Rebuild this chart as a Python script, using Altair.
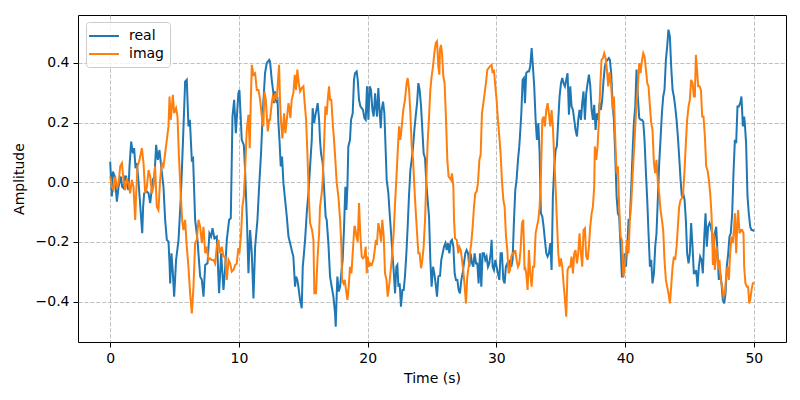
import altair as alt
import pandas as pd

# ---- data ----
real_t = [0.00,0.13,0.21,0.36,0.52,0.65,0.83,0.93,1.04,1.14,1.24,1.35,1.42,1.50,1.63,1.76,1.86,1.97,2.07,2.20,2.33,2.49,2.56,2.64,2.85,2.98,3.11,3.21,3.31,3.44,3.57,3.70,3.83,3.96,4.14,4.27,4.40,4.53,4.61,4.66,4.76,4.87,4.97,5.12,5.31,5.49,5.64,5.80,
          5.82,5.95,6.08,6.19,6.34,6.44,6.60,6.78,6.99,7.12,7.25,7.38,7.56,7.71,7.84,7.95,8.10,8.28,8.46,8.62,8.80,8.93,9.06,9.24,9.37,9.50,9.63,9.76,9.96,10.04,10.22,10.38,10.48,10.64,10.74,10.87,11.00,11.13,11.26,11.44,11.57,11.72,11.85,12.03,12.16,12.35,
          12.42,12.55,12.68,12.73,12.81,12.94,12.99,13.07,13.15,13.25,13.35,13.46,13.59,13.72,13.85,13.98,14.10,14.23,14.36,14.44,14.54,14.62,14.75,14.88,14.96,15.01,15.14,15.27,15.40,15.53,15.66,15.73,15.84,15.92,16.05,16.12,16.23,16.30,16.38,16.51,16.64,16.74,16.82,16.95,17.08,17.21,17.34,17.47,17.52,17.60,17.65,17.75,17.86,17.93,18.06,18.17,18.27,18.35,18.43,18.50,18.63,18.71,18.84,18.94,
          19.02,19.15,19.23,19.33,19.44,19.54,19.64,19.75,19.85,19.95,20.06,20.16,20.26,20.37,20.47,20.58,20.65,20.73,20.83,20.94,21.02,21.09,21.20,21.30,21.40,21.48,21.61,21.71,21.82,21.92,22.02,22.13,22.23,22.31,22.39,22.49,22.59,22.70,22.80,22.90,23.01,23.11,23.21,23.32,23.42,23.53,23.63,23.73,23.84,23.94,24.04,24.15,24.25,24.35,24.46,24.56,24.66,24.77,24.87,24.97,25.08,25.18,25.28,25.39,25.49,25.60,
          25.62,25.72,25.83,25.93,26.04,26.14,26.24,26.35,26.45,26.55,26.66,26.76,26.86,26.97,27.07,27.17,27.28,27.38,27.48,27.59,27.69,27.80,27.90,28.00,28.11,28.21,28.31,28.42,28.52,28.62,28.73,28.83,28.93,29.04,29.14,29.24,29.35,29.45,29.56,29.63,29.71,29.81,29.92,30.02,30.12,30.23,30.33,30.43,30.54,30.64,30.74,30.85,30.95,31.06,31.16,31.26,31.37,31.47,31.57,31.68,31.78,31.83,31.94,32.04,32.14,
          32.22,32.32,32.43,32.53,32.63,32.74,32.84,32.94,33.05,33.15,33.26,33.36,33.46,33.57,33.67,33.77,33.88,33.98,34.08,34.19,34.29,34.39,34.50,34.60,34.70,34.81,34.91,35.02,35.12,35.22,35.33,35.43,35.53,35.64,35.74,35.84,35.95,36.05,36.15,36.26,36.36,36.46,36.57,36.67,36.77,36.88,36.98,37.09,37.19,37.29,37.40,37.50,37.60,37.71,37.81,37.91,38.02,38.12,38.22,38.33,38.43,38.53,38.64,38.74,
          38.82,38.92,39.03,39.13,39.23,39.34,39.44,39.54,39.65,39.75,39.86,39.96,40.06,40.17,40.27,40.37,40.48,40.58,40.68,40.79,40.89,40.99,41.10,41.20,41.30,41.41,41.51,41.62,41.72,41.82,41.93,42.03,42.13,42.24,42.34,42.44,42.55,42.65,42.75,42.86,42.96,43.06,43.17,43.27,43.37,43.48,43.58,43.69,43.79,43.89,44.00,44.10,44.20,44.31,44.41,44.51,44.62,44.72,44.82,44.93,45.03,45.13,45.24,45.34,
          45.42,45.52,45.63,45.73,45.83,45.94,46.04,46.14,46.25,46.35,46.45,46.56,46.66,46.76,46.87,46.97,47.08,47.18,47.28,47.39,47.49,47.59,47.70,47.80,47.90,48.01,48.11,48.21,48.32,48.42,48.53,48.63,48.73,48.84,48.94,49.04,49.15,49.25,49.30,49.40,49.51,49.61,49.72,49.82,49.92,50.00]
real_v = [0.069,-0.048,0.036,0.019,-0.065,-0.015,0.019,-0.015,-0.020,0.019,0.019,-0.015,-0.026,0.053,0.136,0.097,0.114,0.047,0.064,0.002,-0.076,-0.171,-0.082,-0.037,-0.031,-0.037,-0.070,-0.031,0.008,0.019,0.125,0.075,0.108,0.053,-0.015,-0.126,-0.193,-0.199,-0.272,-0.339,-0.238,-0.305,-0.383,-0.260,-0.193,-0.048,0.120,0.309,
          0.337,0.343,0.187,0.209,0.075,0.080,-0.126,-0.193,-0.316,-0.327,-0.383,-0.277,-0.272,-0.171,-0.182,-0.154,-0.188,-0.182,-0.372,-0.238,-0.361,-0.288,-0.193,-0.126,-0.121,0.220,0.276,0.164,0.298,0.309,0.142,0.125,0.041,-0.149,-0.305,-0.160,-0.238,-0.389,-0.216,-0.126,-0.015,0.097,0.231,0.365,0.399,0.410,
          0.404,0.343,0.298,0.265,0.304,0.265,0.287,0.198,0.142,0.053,0.086,-0.003,-0.059,-0.115,-0.182,-0.204,-0.227,-0.249,-0.350,-0.316,-0.327,-0.350,-0.394,-0.422,-0.283,-0.260,-0.193,-0.104,-0.037,0.053,0.142,0.248,0.198,0.220,0.248,0.265,0.209,0.142,0.097,0.064,-0.037,-0.115,-0.126,-0.204,-0.316,-0.350,-0.383,-0.439,-0.484,-0.372,-0.316,-0.366,-0.350,-0.316,-0.260,-0.149,-0.015,-0.093,-0.015,0.120,0.142,0.209,0.231,0.343,
          0.365,0.371,0.343,0.276,0.254,0.248,0.242,0.215,0.209,0.321,0.209,0.321,0.309,0.242,0.220,0.298,0.254,0.220,0.315,0.231,0.181,0.242,0.270,0.231,0.108,0.008,-0.037,-0.104,-0.171,-0.238,-0.294,-0.372,-0.283,-0.277,-0.350,-0.339,-0.417,-0.361,-0.361,-0.316,-0.238,-0.149,-0.048,0.041,0.075,0.120,0.175,0.220,0.265,0.332,0.309,0.254,0.175,0.097,0.080,-0.003,-0.059,-0.115,-0.260,-0.350,-0.283,-0.305,-0.339,-0.383,-0.316,-0.311,
          -0.316,-0.260,-0.238,-0.216,-0.204,-0.227,-0.204,-0.238,-0.199,-0.193,-0.216,-0.305,-0.327,-0.327,-0.361,-0.372,-0.327,-0.305,-0.272,-0.238,-0.227,-0.238,-0.283,-0.238,-0.272,-0.283,-0.238,-0.272,-0.272,-0.339,-0.238,-0.350,-0.238,-0.238,-0.260,-0.249,-0.283,-0.272,-0.238,-0.193,-0.283,-0.294,-0.260,-0.283,-0.305,-0.327,-0.238,-0.238,-0.327,-0.339,-0.283,-0.272,-0.283,-0.260,-0.283,-0.260,-0.126,-0.026,0.008,0.075,0.120,0.153,0.231,0.343,0.349,
          0.265,0.365,0.371,0.371,0.388,0.449,0.388,0.321,0.209,0.142,0.198,0.097,-0.104,-0.115,-0.149,-0.193,-0.238,-0.249,-0.238,-0.204,-0.294,-0.048,0.053,0.108,0.120,0.209,0.287,0.332,0.349,0.332,0.321,0.343,0.365,0.226,0.321,0.254,0.242,0.209,0.175,0.153,0.209,0.242,0.209,0.265,0.304,0.209,0.298,0.332,0.360,0.326,0.242,0.209,0.259,0.175,0.231,0.209,0.265,0.242,0.276,0.343,0.388,0.404,0.410,0.416,
          0.410,0.365,0.265,0.209,0.097,-0.048,-0.104,-0.115,-0.216,-0.316,-0.316,-0.238,-0.283,-0.216,-0.126,-0.126,-0.015,0.097,0.198,0.254,0.377,0.287,0.215,0.209,0.209,0.203,0.142,0.030,-0.059,-0.171,-0.283,-0.260,-0.339,-0.305,-0.216,-0.171,-0.048,0.064,0.142,0.231,0.287,0.309,0.410,0.455,0.511,0.488,0.388,0.309,0.287,0.254,0.209,0.153,0.086,0.008,-0.048,-0.037,-0.059,-0.126,-0.238,-0.272,-0.238,-0.137,-0.216,-0.305,
          -0.305,-0.294,-0.350,-0.283,-0.249,-0.260,-0.305,-0.193,-0.104,-0.216,-0.149,-0.137,-0.149,-0.171,-0.238,-0.171,-0.149,-0.238,-0.327,-0.305,-0.339,-0.394,-0.406,-0.372,-0.283,-0.238,-0.182,-0.171,-0.104,0.030,0.142,0.131,0.254,0.254,0.265,0.287,0.187,0.220,0.198,0.131,-0.048,-0.104,-0.149,-0.160,-0.160,-0.165]

imag_t = [0.00,0.13,0.26,0.39,0.52,0.65,0.78,0.91,1.04,1.16,1.29,1.42,1.55,1.68,1.81,1.94,2.02,2.12,2.28,2.46,2.59,2.72,2.85,2.98,3.11,3.24,3.36,3.49,3.62,3.75,3.88,4.01,4.14,4.27,4.40,4.53,4.61,4.71,4.87,4.97,5.12,5.23,5.33,5.49,5.59,5.69,
          5.82,5.95,6.08,6.21,6.34,6.47,6.60,6.73,6.86,6.99,7.12,7.25,7.38,7.51,7.63,7.76,7.89,8.02,8.15,8.28,8.41,8.51,8.67,8.80,8.93,9.06,9.19,9.32,9.45,9.58,9.71,9.83,9.96,10.04,10.17,10.27,10.38,10.48,10.61,10.74,10.84,10.92,11.00,11.13,11.26,11.39,11.52,11.65,11.78,11.90,11.98,12.09,12.24,12.35,
          12.42,12.55,12.63,12.73,12.84,12.94,13.04,13.12,13.20,13.28,13.38,13.51,13.61,13.72,13.85,13.92,14.00,14.10,14.23,14.34,14.44,14.54,14.65,14.75,14.88,15.01,15.11,15.22,15.32,15.42,15.53,15.68,15.79,15.86,15.99,16.10,16.23,16.30,16.43,16.51,16.61,16.72,16.77,16.82,16.90,17.00,17.08,17.18,17.29,17.39,17.49,17.60,17.73,17.86,17.96,18.01,18.12,18.22,18.32,18.43,18.53,18.63,18.74,18.84,18.97,
          19.02,19.13,19.23,19.33,19.44,19.54,19.64,19.75,19.85,19.93,20.01,20.11,20.21,20.32,20.45,20.52,20.63,20.73,20.83,20.94,21.04,21.14,21.25,21.35,21.46,21.56,21.66,21.77,21.87,21.92,22.02,22.13,22.23,22.33,22.44,22.54,22.65,22.77,22.90,23.03,23.11,23.22,23.32,23.42,23.53,23.63,23.73,23.84,23.94,24.04,24.15,24.25,24.35,24.46,24.56,24.66,24.77,24.87,24.97,25.08,25.18,25.29,25.39,25.49,25.57,
          25.62,25.70,25.78,25.88,25.98,26.09,26.19,26.29,26.40,26.48,26.55,26.66,26.71,26.79,26.92,27.04,27.12,27.23,27.33,27.43,27.54,27.64,27.74,27.85,27.95,28.05,28.16,28.26,28.36,28.47,28.57,28.68,28.78,28.88,28.99,29.09,29.19,29.30,29.40,29.50,29.63,29.71,29.81,29.92,30.02,30.12,30.23,30.33,30.43,30.54,30.64,30.75,30.85,30.95,31.06,31.16,31.26,31.37,31.47,31.57,31.68,31.78,31.88,31.99,32.09,32.19,
          32.22,32.32,32.43,32.53,32.63,32.74,32.84,32.94,33.05,33.15,33.26,33.36,33.46,33.57,33.67,33.77,33.88,33.98,34.08,34.19,34.29,34.39,34.50,34.60,34.70,34.81,34.91,35.02,35.12,35.22,35.33,35.43,35.53,35.64,35.74,35.84,35.95,36.05,36.15,36.26,36.36,36.46,36.57,36.67,36.77,36.88,36.98,37.09,37.19,37.29,37.40,37.50,37.60,37.65,37.76,37.86,37.97,38.07,38.17,38.28,38.38,38.48,38.59,38.69,38.79,
          38.82,38.92,39.03,39.13,39.23,39.34,39.44,39.54,39.65,39.75,39.86,39.96,40.06,40.17,40.27,40.37,40.48,40.58,40.68,40.79,40.89,40.99,41.10,41.20,41.30,41.41,41.51,41.62,41.72,41.82,41.93,42.03,42.13,42.24,42.34,42.44,42.55,42.65,42.75,42.86,42.96,43.06,43.17,43.27,43.37,43.48,43.58,43.69,43.79,43.89,44.00,44.10,44.20,44.31,44.41,44.51,44.62,44.72,44.82,44.93,45.03,45.13,45.24,45.34,
          45.42,45.50,45.57,45.68,45.78,45.89,45.99,46.09,46.20,46.30,46.40,46.51,46.61,46.71,46.77,46.82,46.89,46.97,47.05,47.13,47.23,47.33,47.44,47.54,47.65,47.75,47.85,47.96,48.06,48.16,48.27,48.37,48.47,48.53,48.63,48.73,48.78,48.89,48.99,49.09,49.20,49.25,49.35,49.46,49.56,49.64,49.72,49.82,49.92,50.00]
imag_v = [0.019,-0.015,-0.026,0.019,-0.020,-0.003,0.053,0.064,0.008,-0.026,0.008,-0.003,-0.037,0.008,-0.015,-0.126,-0.037,0.053,0.075,0.114,0.064,-0.037,-0.015,0.041,0.019,-0.037,-0.015,0.053,-0.082,-0.093,0.008,0.064,0.053,0.097,0.142,0.187,0.287,0.209,0.293,0.231,0.248,0.220,0.097,-0.048,-0.126,-0.160,
          -0.126,-0.216,-0.283,-0.372,-0.439,-0.350,-0.204,-0.193,-0.126,-0.149,-0.204,-0.149,-0.238,-0.216,-0.260,-0.255,-0.260,-0.260,-0.272,-0.216,-0.193,-0.238,-0.216,-0.249,-0.249,-0.327,-0.260,-0.272,-0.299,-0.294,-0.277,-0.272,-0.221,-0.238,-0.171,-0.082,-0.048,0.041,0.175,0.226,0.114,0.265,0.393,0.360,0.365,0.309,0.309,0.276,0.220,0.187,0.304,0.276,0.170,0.209,
          0.209,0.265,0.287,0.276,0.298,0.276,0.343,0.393,0.265,0.198,0.147,0.231,0.164,0.209,0.265,0.248,0.215,0.276,0.298,0.360,0.309,0.377,0.332,0.304,0.315,0.321,0.265,0.209,0.097,-0.037,-0.137,-0.160,-0.193,-0.372,-0.372,-0.260,-0.171,-0.082,-0.037,0.008,0.120,0.254,0.231,0.226,0.276,0.321,0.276,0.276,0.198,0.142,0.075,-0.003,-0.048,-0.126,-0.216,-0.327,-0.339,-0.327,-0.361,-0.394,-0.350,-0.283,-0.305,-0.238,-0.149,
          -0.149,-0.182,-0.199,-0.070,-0.182,-0.249,-0.255,-0.249,-0.216,-0.305,-0.249,-0.283,-0.272,-0.277,-0.260,-0.238,-0.199,-0.204,-0.137,-0.160,-0.199,-0.126,-0.182,-0.305,-0.327,-0.383,-0.350,-0.305,-0.260,-0.227,-0.171,-0.070,0.008,0.097,0.187,0.142,0.187,0.242,0.276,0.332,0.349,0.309,0.231,0.120,0.075,-0.015,-0.093,-0.171,-0.238,-0.238,-0.288,-0.260,-0.216,-0.126,0.008,0.131,0.220,0.309,0.354,0.388,0.432,0.466,0.472,0.388,0.360,
          0.444,0.460,0.432,0.354,0.332,0.209,0.075,0.019,0.013,0.008,0.030,-0.015,-0.126,-0.188,-0.193,-0.238,-0.216,-0.227,-0.260,-0.294,-0.350,-0.406,-0.316,-0.283,-0.238,-0.204,-0.149,-0.082,-0.037,-0.031,-0.003,0.075,0.092,0.231,0.265,0.298,0.332,0.377,0.382,0.388,0.393,0.365,0.377,0.321,0.276,0.209,0.153,0.097,0.008,-0.059,-0.082,-0.182,-0.227,-0.305,-0.294,-0.249,-0.238,-0.238,-0.227,-0.260,-0.283,-0.272,-0.227,-0.137,-0.126,-0.294,
          -0.283,-0.305,-0.361,-0.227,-0.305,-0.350,-0.283,-0.283,-0.171,-0.149,-0.126,-0.082,0.019,0.209,0.220,0.187,0.242,0.265,0.231,0.187,0.242,0.187,0.075,-0.015,-0.126,-0.238,-0.283,-0.255,-0.283,-0.339,-0.394,-0.450,-0.294,-0.283,-0.283,-0.249,-0.305,-0.238,-0.227,-0.272,-0.238,-0.171,-0.238,-0.283,-0.160,-0.154,-0.249,-0.260,-0.216,-0.149,-0.104,-0.082,-0.015,0.120,0.075,0.120,0.209,0.321,0.410,0.416,0.432,0.416,0.377,0.321,0.365,
          0.365,0.321,0.242,0.287,0.153,0.030,0.053,-0.082,-0.182,-0.193,-0.316,-0.283,-0.238,-0.193,-0.238,-0.126,-0.070,0.019,0.097,0.187,0.265,0.321,0.399,0.365,0.404,0.432,0.421,0.377,0.332,0.321,0.254,0.198,0.175,0.064,0.030,0.075,-0.003,-0.037,-0.093,-0.126,-0.160,-0.260,-0.327,-0.350,-0.372,-0.406,-0.350,-0.283,-0.249,-0.260,-0.216,-0.149,-0.082,-0.059,-0.054,-0.037,0.041,0.131,0.209,0.254,0.276,0.343,0.332,0.287,
          0.287,0.427,0.388,0.321,0.321,0.309,0.220,0.220,0.153,0.053,0.041,0.008,-0.037,-0.104,-0.182,-0.277,-0.171,-0.294,-0.238,-0.216,-0.294,-0.260,-0.327,-0.350,-0.383,-0.372,-0.316,-0.283,-0.327,-0.238,-0.182,-0.204,-0.149,-0.104,-0.238,-0.126,-0.093,-0.171,-0.160,-0.160,-0.171,-0.283,-0.339,-0.350,-0.350,-0.406,-0.394,-0.361,-0.339,-0.335]

series_names = ["real", "imag"]
series_colors = ["#1f77b4", "#ff7f0e"]
x_ticks = [0, 10, 20, 30, 40, 50]
y_ticks = [-0.4, -0.2, 0.0, 0.2, 0.4]

real_df = pd.DataFrame({"t": real_t[:len(real_v)], "value": real_v[:len(real_t)]})
real_df["series"] = "real"
imag_df = pd.DataFrame({"t": imag_t[:len(imag_v)], "value": imag_v[:len(imag_t)]})
imag_df["series"] = "imag"

FONT = "DejaVu Sans"

x_enc = alt.X("t:Q",
              scale=alt.Scale(domain=[-2.5, 52.5], nice=False, zero=False),
              axis=alt.Axis(values=x_ticks, format="d", title="Time (s)"))
y_enc = alt.Y("value:Q",
              scale=alt.Scale(domain=[-0.535, 0.56], nice=False, zero=False),
              axis=alt.Axis(values=y_ticks, format=".1f", title="Amplitude"))
c_enc = alt.Color("series:N",
                  scale=alt.Scale(domain=series_names, range=series_colors),
                  legend=alt.Legend(
                      title=None, orient="none", legendX=8, legendY=7,
                      symbolType="M-2.2,0L2.2,0", symbolSize=185,
                      symbolStrokeWidth=2, symbolOffset=4, labelOffset=17,
                      padding=6, rowPadding=3,
                      labelFont=FONT, labelFontSize=14, labelColor="black",
                      fillColor="rgba(255,255,255,0.8)", strokeColor="#cccccc",
                      cornerRadius=3))

real_layer = alt.Chart(real_df).mark_line(strokeWidth=2, clip=True).encode(x=x_enc, y=y_enc, color=c_enc)
imag_layer = alt.Chart(imag_df).mark_line(strokeWidth=2, clip=True).encode(x=x_enc, y=y_enc, color=c_enc)

chart = alt.layer(real_layer, imag_layer).properties(
    width=708, height=327,
    autosize=alt.AutoSizeParams(type="none"),
    padding={"left": 70, "top": 7, "right": 6, "bottom": 50},
    background="white",
).configure_view(
    stroke="black", strokeWidth=1
).configure_axis(
    domain=False,
    grid=True, gridColor="#b0b0b0", gridWidth=0.8, gridDash=[4.1, 1.8],
    ticks=True, tickColor="black", tickSize=5, tickWidth=1,
    labelFont=FONT, labelFontSize=14, labelColor="black", labelPadding=4,
    titleFont=FONT, titleFontSize=14, titleFontWeight="normal", titleColor="black",
).configure_axisX(
    titlePadding=6
).configure_axisY(
    titlePadding=9
)

chart.save("out.html", embed_options={"renderer": "svg", "actions": False})
